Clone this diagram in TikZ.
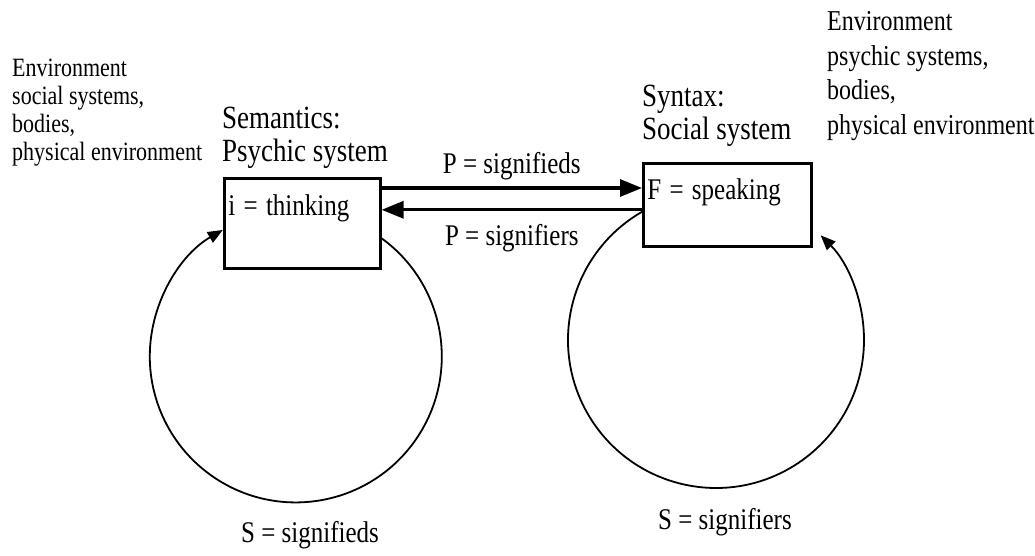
\documentclass[tikz,border=0pt]{standalone}
\usepackage{fontspec}
\usepackage{graphicx}
\setmainfont{Liberation Serif}
\usetikzlibrary{arrows.meta,positioning}

\begin{document}
\begin{tikzpicture}[
  x=1pt,y=1pt,
  tall/.style={yscale=1.2,transform shape},
  env/.style={tall,align=left,inner sep=0pt,anchor=north west,font=\fontsize{22}{23.3}\selectfont},
  head/.style={tall,align=left,inner sep=0pt,anchor=north west,font=\fontsize{27}{27}\selectfont},
  box/.style={draw,line width=2.6pt,anchor=north west,inner sep=4pt,align=left,font=\fontsize{25}{27}\selectfont},
  lbl/.style={tall,inner sep=0pt,font=\fontsize{25}{27}\selectfont},
  arr/.style={line width=3.2pt,-{Triangle[length=22pt,width=17pt]}},
  cyc/.style={line width=1.8pt,-{Triangle[length=15pt,width=12pt]}}
]
  \useasboundingbox (0,0) rectangle (1035,555);

  \node[box,text width=148pt,text height=33pt,text depth=49pt] (think) at (223,378) {\scalebox{1}[1.2]{i = thinking}};
  \node[box,text width=160pt,text height=32pt,text depth=43pt] (speak) at (642,393) {\scalebox{1}[1.2]{F = speaking}};

  \node[env] (envL) at (12,496) {Environment\\social systems,\\bodies,\\physical environment};
  \node[head] (semL) at (222,448) {Semantics:\\Psychic system};
  \node[head] (synR) at (642,470) {Syntax:\\Social system};
  \node[env,font=\fontsize{24}{29}\selectfont] (envR) at (827,544) {Environment\\psychic systems,\\bodies,\\physical environment};

  \coordinate (upL) at ([yshift=-11pt]think.north east);
  \coordinate (dnR) at ([yshift=-5pt]speak.west);
  \draw[arr] (upL) -- (upL -| speak.west) node[midway,above=6pt,lbl] (pUp) {P = signifieds};
  \draw[arr] (dnR) -- (dnR -| think.east) node[midway,below=13pt,lbl] (pDn) {P = signifiers};

  \draw[cyc] ([yshift=-15pt]think.east) arc[start angle=54,end angle=-240,radius=146];
  \draw[cyc] ([yshift=-7pt]speak.west) arc[start angle=120,end angle=405,radius=148];

  \node[lbl] (sL) at (310,20) {S = signifieds};
  \node[lbl] (sR) at (725,33) {S = signifiers};
\end{tikzpicture}
\end{document}
